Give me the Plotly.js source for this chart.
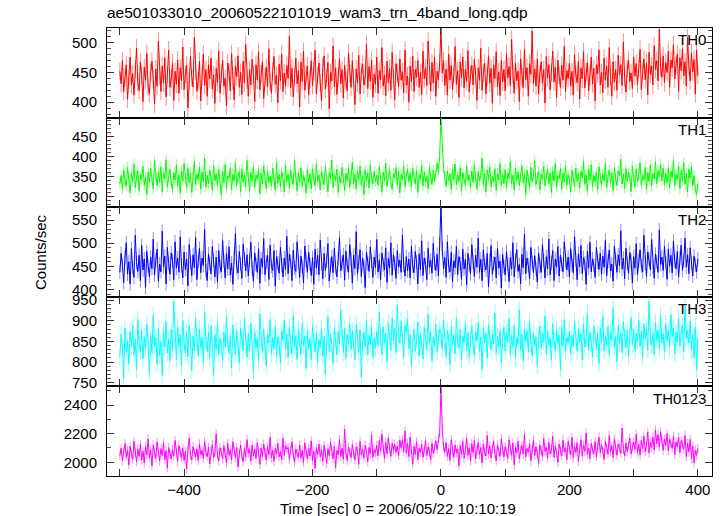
<!DOCTYPE html>
<html>
<head>
<meta charset="utf-8">
<script src="https://cdn.plot.ly/plotly-3.0.1.min.js"></script>
<style>html,body{margin:0;padding:0;background:#fff;}#chart{width:723px;height:516px;}</style>
</head>
<body>
<div id="chart"></div>
<script>
// ---- Data (counts/sec, 2-s bins) ----
const tStart = -500;      // first bin time [s]
const binSize = 2;        // bin width [s]
const bandNames = ["TH0", "TH1", "TH2", "TH3", "TH0123"];

const th0 = [
452,431,470,418,441,463,405,437,476,429,448,412,455,491,433,420,468,445,401,459,437,482,426,414,450,
469,438,397,456,427,503,444,418,461,432,475,409,447,488,425,439,466,403,452,430,471,415,458,436,493,
421,447,462,390,435,478,441,426,509,453,418,437,469,402,444,481,428,455,410,463,439,474,422,446,398,
457,433,486,415,449,471,427,440,394,466,451,419,482,436,404,461,443,478,425,450,413,469,432,497,438,
410,455,429,472,446,401,463,437,485,421,448,468,406,441,459,426,490,434,415,452,477,430,445,399,464,
436,481,418,449,427,462,440,511,424,457,409,443,474,431,453,392,468,435,486,420,447,461,412,439,470,
428,452,488,414,445,466,433,402,459,478,422,441,467,389,450,436,495,426,458,413,444,473,431,455,407,
462,437,419,483,448,425,470,441,396,456,432,479,414,451,464,429,442,498,423,460,435,471,408,447,430,
476,415,453,438,492,427,446,411,469,433,457,420,484,440,404,465,449,426,473,437,451,416,488,429,444,
400,461,434,478,418,455,442,470,425,450,413,486,439,458,428,503,445,419,467,432,476,410,452,438,466,
525,449,470,428,456,412,481,437,462,421,447,494,430,453,408,468,441,476,424,455,435,487,417,446,462,
429,472,445,403,458,437,491,420,449,466,414,443,478,432,457,398,463,440,485,426,451,411,470,434,455,
419,482,441,460,428,506,447,415,466,436,452,401,473,443,424,489,438,458,410,465,447,520,431,456,427,
473,414,448,468,432,455,399,477,441,463,421,450,486,434,459,408,471,445,425,462,437,494,418,453,440,
466,427,452,412,480,446,433,469,405,458,439,485,424,451,467,419,444,476,431,457,402,463,448,488,429,
450,416,474,437,461,425,492,443,410,468,434,455,420,479,446,463,428,501,441,417,456,471,435,449,423,
476,444,465,430,458,489,421,452,473,438,466,412,484,447,461,429,495,455,470,436,523,459,442,478,433,
467,450,486,425,471,458,497,439,462,481,418,475,453,490,444,468,427,509,460,436,483,451,472,414,488,
445
];

const th1 = [
331,352,318,366,340,325,373,344,309,358,337,381,322,349,364,314,355,342,376,328,347,305,361,335,370,
343,319,388,351,327,362,336,374,312,357,345,392,324,350,368,333,316,359,341,379,326,353,308,364,338,
382,346,321,370,335,359,310,348,387,329,356,342,373,318,361,337,395,323,352,331,366,344,315,377,339,
357,326,368,341,303,363,334,380,320,351,345,372,317,356,338,384,328,349,362,311,369,336,354,325,390,
347,313,360,339,374,322,353,343,367,306,358,331,376,345,319,364,335,351,327,371,340,316,385,333,356,
324,362,346,311,378,337,355,320,366,342,330,389,348,314,359,336,372,325,352,341,308,367,334,357,319,
369,343,326,381,338,354,317,363,347,329,375,335,312,360,344,391,322,356,339,368,310,350,333,373,346,
315,358,337,371,323,349,386,332,355,318,364,342,376,327,352,304,366,338,359,321,379,345,331,362,336,
353,328,374,344,312,361,340,383,325,350,367,334,318,357,346,372,329,363,309,355,341,377,324,349,368,
337,359,322,370,348,331,365,310,354,343,378,326,361,336,352,319,373,345,330,366,339,357,384,362,402,
497,418,371,348,325,363,339,356,317,368,342,381,329,354,337,372,314,360,345,327,376,340,353,321,364,
335,379,347,319,362,338,352,396,328,357,311,366,343,374,324,350,337,369,315,358,341,383,326,355,332,
367,322,359,345,388,331,353,316,371,340,362,327,349,377,334,357,305,365,343,321,373,336,354,389,329,
348,363,317,356,341,375,326,351,368,332,359,310,364,339,382,323,352,345,370,318,358,336,377,328,354,
342,311,366,349,324,371,337,358,320,363,346,387,330,355,313,368,341,379,325,352,336,361,317,374,345,
329,357,339,383,322,350,366,334,359,315,372,343,327,364,351,393,331,356,320,369,338,361,345,312,376,
347,323,368,336,355,384,328,352,341,373,318,360,337,378,326,357,344,387,332,365,349,381,339,370,329,
358,334,372,321,363,347,389,327,355,342,376,319,366,338,384,330,357,311,368,345,374,326,352,318,305,
331
];

const th2 = [
437,478,452,415,469,501,433,460,412,488,447,426,517,458,439,474,419,495,442,466,404,482,451,428,470,
445,509,431,463,487,418,455,438,526,449,472,412,491,456,433,479,462,421,503,446,468,437,514,452,425,
481,443,466,408,497,458,430,475,447,512,421,460,489,436,468,452,530,441,419,477,456,434,493,463,427,
470,416,484,449,438,506,461,425,478,444,492,431,457,411,469,521,447,436,482,455,424,498,466,440,475,
429,463,502,445,418,479,454,437,488,413,467,448,510,432,459,474,422,496,450,441,484,407,471,457,435,
491,452,427,468,443,515,434,476,461,419,485,447,439,503,458,426,472,450,414,494,463,437,481,455,430,
469,411,487,446,474,432,507,456,423,478,441,462,499,418,453,471,436,489,448,427,466,512,440,458,475,
420,483,452,437,497,465,414,474,445,525,433,459,486,428,468,449,404,481,456,439,492,461,426,470,447,
508,438,463,421,479,453,442,490,415,467,446,501,431,475,457,424,484,449,463,437,518,452,429,471,440,
466,425,494,451,436,482,459,412,477,443,505,430,468,454,421,489,448,463,435,500,457,441,476,429,498,
585,488,445,469,426,503,451,438,480,417,462,447,493,432,471,456,422,487,444,465,410,478,453,434,497,
459,428,474,448,511,437,465,419,486,452,442,478,406,463,495,433,457,470,425,489,446,461,403,476,450,
431,482,455,417,469,444,501,427,463,486,439,454,412,476,447,520,434,468,452,423,491,458,436,473,445,
416,479,450,437,497,462,425,471,444,509,432,458,484,419,466,448,493,429,474,455,438,503,461,442,470,
427,488,453,436,514,464,421,477,449,495,434,469,457,411,483,446,502,438,466,452,426,491,459,443,478,
433,472,448,506,429,461,485,440,455,418,494,466,437,475,451,527,444,468,423,489,457,435,480,462,414,
471,446,499,432,463,486,451,438,517,456,428,481,465,443,508,449,424,476,460,437,529,454,470,441,493,
458,422,487,450,474,436,505,461,445,482,427,468,496,441,463,511,448,475,434,490,457,429,472,453,438,
466
];

const th3 = [
812,868,835,761,882,824,851,796,873,838,889,817,856,782,903,843,826,877,808,861,831,892,847,774,866,
821,913,839,858,795,881,816,849,768,874,836,898,822,855,803,878,829,947,851,806,884,838,867,790,901,
845,822,872,812,889,851,779,863,827,906,847,815,880,834,860,797,921,852,826,873,809,887,840,769,866,
830,895,818,857,838,804,873,836,911,848,822,864,785,890,843,819,876,834,798,882,855,828,906,841,812,
869,826,894,848,777,872,834,858,803,917,851,822,880,839,791,866,846,903,820,859,832,887,814,861,842,
798,876,853,901,829,868,811,884,845,820,912,837,864,806,879,850,818,893,840,863,784,875,831,857,806,
889,846,825,870,799,853,835,881,813,862,771,847,910,826,868,839,796,883,851,818,874,842,927,858,823,
881,809,866,845,893,830,875,848,806,891,857,822,878,763,849,872,836,901,817,865,842,886,811,859,833,
874,840,921,858,818,885,847,870,801,895,861,829,906,852,882,823,938,864,846,899,857,812,889,872,905,
833,866,791,845,878,826,853,897,815,869,840,808,884,856,829,915,847,873,802,861,838,892,824,857,880,
868,831,902,848,813,876,859,794,885,842,867,820,908,851,834,879,805,863,846,893,828,871,812,855,887,
839,816,874,852,897,825,861,782,883,847,870,809,891,856,831,868,844,919,821,862,837,876,798,853,884,
827,872,849,905,818,864,836,889,811,858,843,926,829,867,802,881,850,876,824,898,845,815,870,838,861,
792,855,887,833,869,848,912,820,876,841,859,806,893,852,827,878,845,866,781,884,839,903,825,860,847,
875,819,864,838,899,853,826,881,847,869,805,892,836,858,917,829,873,845,812,887,851,833,870,796,882,
848,911,827,863,840,886,818,872,854,931,836,861,801,889,845,870,823,898,859,834,877,815,866,908,842,
880,826,869,850,901,838,875,813,893,857,884,829,947,862,840,871,819,896,853,878,833,912,847,868,824,
893,851,878,836,915,862,884,820,872,848,906,838,869,889,825,936,857,876,846,899,830,867,811,885,782,
858
];

const th0123 = [
2045,2098,2011,2073,2130,2036,2084,1982,2112,2058,2021,2147,2069,2003,2091,2042,2125,2015,2077,1994,2108,2052,2163,2031,2086,
1975,2119,2064,2027,2141,2072,2008,2095,2047,2136,2019,2081,1961,2103,2056,2024,2089,2043,2152,2071,2005,2117,2060,2032,2098,
2013,2075,1952,2083,2170,2049,2016,2109,2065,2037,2093,2012,2128,2054,2081,2026,2145,2068,2039,2106,1988,2079,2124,2035,2062,
2198,2051,2009,2101,2070,2022,2115,2067,1996,2133,2048,2087,2018,2142,2076,2031,2104,1967,2058,2121,2044,2003,2097,2036,2158,
2064,2089,2008,2119,2046,2092,2027,2137,2071,1985,2099,2041,2128,2066,2014,2110,2053,2175,2030,2084,2006,2096,2057,2131,2038,
2074,2016,2168,2049,2114,2093,2102,2021,2085,2143,2052,2000,2093,2061,2034,2121,2029,2083,1998,2136,2070,2023,2097,2044,2150,
2012,2078,1958,2101,2055,2126,2037,2088,2007,2117,2065,1991,2094,2046,2139,2076,2025,2113,1963,2082,2053,2160,2040,2098,2020,
2229,2069,2011,2105,2074,2032,2124,2061,2017,2108,2079,1986,2145,2050,2091,2028,2120,2072,2004,2103,2058,2189,2035,2086,2063,
2118,2045,2152,2077,2196,2088,2026,2139,2060,2171,2095,2041,2133,2082,2126,2069,2114,2047,2155,2101,2157,2074,2218,2063,2132,
2039,2176,2084,1987,2110,2056,2143,2019,2097,2068,2125,2034,2082,2151,2046,2107,2073,2015,2134,2062,2098,2149,2088,2166,2205,
2525,2231,2112,2070,2137,2041,2096,2013,2158,2079,2034,2121,2065,2092,1976,2116,2055,2143,2027,2084,2169,2048,2101,2008,2130,
2067,2153,2022,2089,2138,2051,2103,1995,2127,2072,2044,2186,2058,2115,2031,2094,2148,2063,2009,2122,2077,2041,2164,2085,2036,
2110,2072,2027,2158,2090,2049,2135,1981,2103,2066,2147,2024,2082,2117,2058,2194,2039,2096,2071,2129,2011,2085,2153,2047,2108,
2063,1994,2122,2081,2040,2166,2076,2105,2029,2139,2057,2092,2181,2035,2114,2068,1999,2127,2083,2045,2156,2071,2102,2018,2146,
2088,2052,2174,2031,2111,2069,2137,2006,2095,2158,2042,2120,2077,2204,2054,2099,2025,2132,2085,2061,2145,2038,2108,2176,2066,
2121,2080,2019,2148,2093,2057,2187,2072,2113,2034,2165,2086,2049,2128,2101,2062,2239,2091,2043,2135,2075,2117,2170,2058,2104,
2143,2089,2196,2068,2126,2050,2154,2097,2182,2073,2119,2211,2064,2140,2102,2175,2087,2225,2131,2192,2106,2214,2145,2083,2163,
2118,2200,2079,2162,2135,2098,2183,2052,2141,2109,2176,2067,2152,2124,2091,2187,2039,2133,2073,2160,2025,2114,1995,2082,2048,
2096
];

// 1-sigma error per bin (counts/sec), read approximately
const errors = [15, 13, 15, 21, 32];

// x-axis ticks
const xTickVals = [-500, -400, -300, -200, -100, 0, 100, 200, 300, 400];
const xTickText = ["", "\u2212400", "", "\u2212200", "", "0", "", "200", "", "400"];

// ---- Styling ----
const seriesList = [th0, th1, th2, th3, th0123];
const lineColors = ["#ff0000", "#00ff00", "#0000ff", "#00ffff", "#ff00ff"];
const errColors = ["rgba(255,0,0,0.45)", "rgba(0,255,0,0.45)", "rgba(0,0,255,0.45)", "rgba(0,255,255,0.45)", "rgba(255,0,255,0.45)"];
const yRanges = [[374, 525], [273, 497], [384, 578], [741, 958], [1904, 2530]];
const yDticks = [50, 50, 50, 50, 200];
const yMinor = [10, 10, 10, 10, 100];
const FONT = "Liberation Sans, Arial, Helvetica, sans-serif";

const traces = [];
const layout = {
  width: 723, height: 516,
  margin: {l: 107, r: 11, t: 28, b: 40},
  paper_bgcolor: "#fff", plot_bgcolor: "#fff",
  showlegend: false,
  font: {family: FONT, size: 15, color: "#000"},
  title: {
    text: "ae501033010_20060522101019_wam3_trn_4band_long.qdp",
    x: 107 / 723, xref: "container", xanchor: "left",
    y: 1 - 13 / 516, yref: "container", yanchor: "middle",
    font: {family: FONT, size: 15.5, color: "#000"}
  },
  annotations: [],
  xaxis: {}, yaxis: {}
};

const n = seriesList.length;
for (let k = 0; k < n; k++) {
  const sfx = k === 0 ? "" : String(k + 1);
  const top = 1 - k / n, bot = 1 - (k + 1) / n;
  const times = seriesList[k].map((_, i) => tStart + i * binSize);
  traces.push({
    type: "scatter", mode: "lines",
    x: times, y: seriesList[k],
    xaxis: "x" + sfx, yaxis: "y" + sfx,
    line: {color: lineColors[k], width: 1},
    error_y: {type: "constant", value: errors[k], color: errColors[k], thickness: 1, width: 0},
    hoverinfo: "skip"
  });
  layout["xaxis" + sfx] = {
    anchor: "y" + sfx, domain: [0, 1], range: [-520, 422],
    tickmode: "array", tickvals: xTickVals, ticktext: xTickText,
    showticklabels: k === n - 1,
    ticks: "inside", ticklen: 7, tickcolor: "#333", tickwidth: 1,
    showline: true, linecolor: "#000", linewidth: 1, mirror: "allticks",
    showgrid: false, zeroline: false,
    tickfont: {family: FONT, size: 15, color: "#000"},
    matches: k === 0 ? undefined : "x"
  };
  layout["yaxis" + sfx] = {
    anchor: "x" + sfx, domain: [bot, top], range: yRanges[k],
    tick0: 0, dtick: yDticks[k],
    ticks: "inside", ticklen: 7, tickcolor: "#333", tickwidth: 1,
    minor: {dtick: yMinor[k], tick0: 0, ticks: "inside", ticklen: 4, tickcolor: "#555", showgrid: false},
    showline: true, linecolor: "#000", linewidth: 1, mirror: "allticks",
    showgrid: false, zeroline: false,
    ticklabelstandoff: 6,
    tickfont: {family: FONT, size: 15, color: "#000"}
  };
  layout.annotations.push({
    text: bandNames[k], xref: "paper", yref: "paper",
    x: 0.993, y: top - 0.003, xanchor: "right", yanchor: "top",
    showarrow: false, font: {family: FONT, size: 15, color: "#000"}
  });
}

layout.annotations.push({
  text: "Counts/sec", xref: "paper", yref: "paper",
  x: (40 - 107) / 605, y: 0.5, xanchor: "center", yanchor: "middle",
  textangle: -90, showarrow: false, font: {family: FONT, size: 15, color: "#000"}
});
layout.annotations.push({
  text: "Time [sec] 0 = 2006/05/22 10:10:19", xref: "paper", yref: "paper",
  x: (398 - 107) / 605, y: (476 - 508) / 448, xanchor: "center", yanchor: "middle",
  showarrow: false, font: {family: FONT, size: 15, color: "#000"}
});

Plotly.newPlot("chart", traces, layout, {displayModeBar: false, staticPlot: true});
</script>
</body>
</html>
